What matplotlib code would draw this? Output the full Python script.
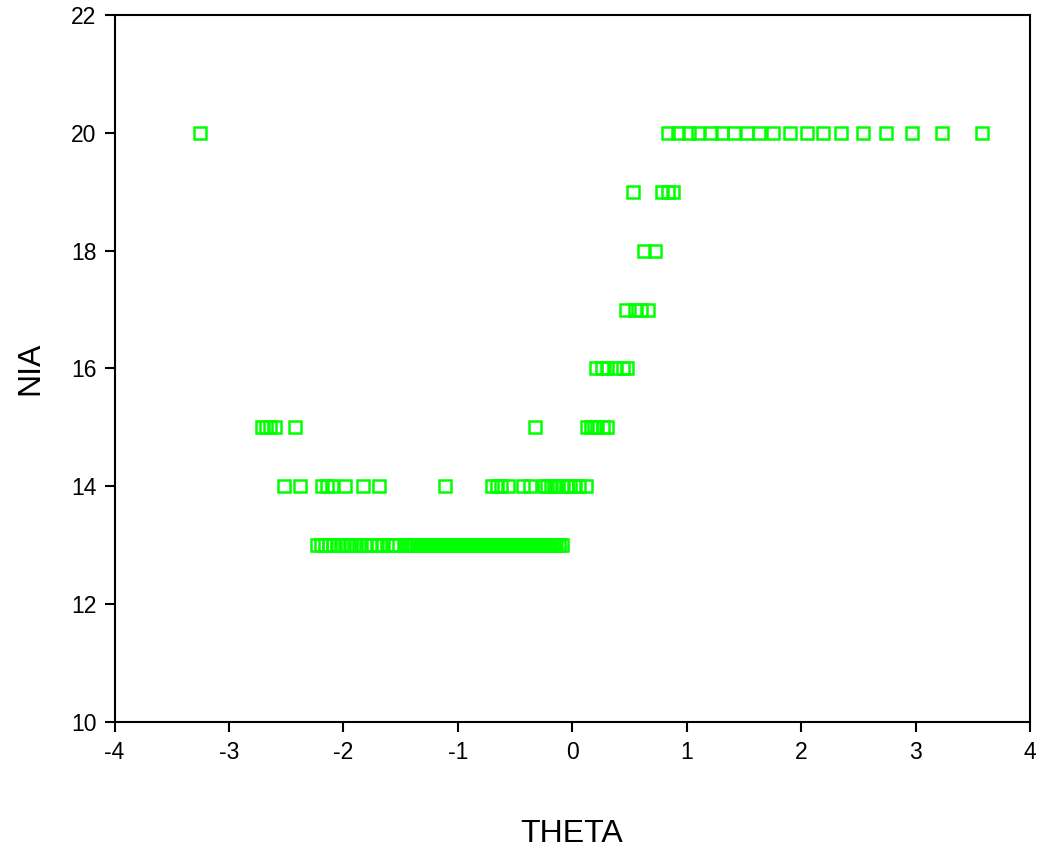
import matplotlib.pyplot as plt
import numpy as np

plt.rcParams['font.family'] = ['Liberation Sans', 'DejaVu Sans']
plt.rcParams['axes.unicode_minus'] = False

# theta values, grouped by NIA score
theta_20 = [-3.25, 0.84, 0.92, 1.02, 1.10, 1.21, 1.31, 1.41, 1.53, 1.63,
            1.75, 1.90, 2.05, 2.19, 2.35, 2.54, 2.74, 2.97, 3.23, 3.58]
theta_19 = [0.53, 0.78, 0.84, 0.88]
theta_18 = [0.63, 0.72]
theta_17 = [0.47, 0.55, 0.60, 0.66]
theta_16 = [0.21, 0.26, 0.30, 0.38, 0.44, 0.48]
theta_15 = [-2.71, -2.68, -2.64, -2.60, -2.42, -0.33,
            0.13, 0.16, 0.19, 0.22, 0.27, 0.30]
theta_14 = [-2.52, -2.38, -2.19, -2.14, -2.10, -1.99, -1.83, -1.69, -1.11,
            -0.70, -0.66, -0.62, -0.56, -0.43, -0.37, -0.25, -0.22, -0.19,
            -0.16, -0.13, -0.09, -0.05, -0.02, 0.02, 0.06, 0.12]
theta_13 = [-2.23, -2.20, -2.16, -2.13, -2.09, -2.05, -2.01, -1.97, -1.93,
            -1.89, -1.85, -1.80, -1.76, -1.71, -1.66, -1.62, -1.58, -1.55,
            -1.46, -1.44, -1.42, -1.40, -1.38, -1.36, -1.34, -1.32, -1.30,
            -1.28, -1.26, -1.24, -1.22, -1.20, -1.18, -1.16, -1.14, -1.12,
            -1.10, -1.08, -1.06, -1.04, -1.02, -1.00, -0.98, -0.96, -0.94,
            -0.92, -0.90, -0.88, -0.86, -0.84, -0.82, -0.80, -0.78, -0.76,
            -0.74, -0.72, -0.70, -0.68, -0.66, -0.64, -0.62, -0.60, -0.58,
            -0.56, -0.54, -0.52, -0.50, -0.48, -0.46, -0.44, -0.42, -0.40,
            -0.38, -0.36, -0.34, -0.32, -0.30, -0.28, -0.26, -0.24, -0.22,
            -0.20, -0.18, -0.16, -0.14, -0.12, -0.09]

groups = [(20, theta_20), (19, theta_19), (18, theta_18), (17, theta_17),
          (16, theta_16), (15, theta_15), (14, theta_14), (13, theta_13)]

theta = np.concatenate([g[1] for g in groups])
nia = np.concatenate([[g[0]] * len(g[1]) for g in groups])

fig = plt.figure(figsize=(10.42, 8.5), dpi=100)
ax = fig.add_axes([0.110, 0.151, 0.8785, 0.831])

ax.plot(theta, nia, linestyle='none', marker='s', markersize=8,
        markerfacecolor='none', markeredgecolor='#00ff00', markeredgewidth=1.8)

ax.set_xlim(-4, 4)
ax.set_ylim(10, 22)
ax.set_xticks(range(-4, 5))
ax.set_yticks(range(10, 23, 2))
ax.tick_params(direction='out', length=7, width=1.5, labelsize=16.5)
ax.tick_params(axis='x', pad=7)
ax.tick_params(axis='y', pad=6)
for s in ax.spines.values():
    s.set_linewidth(1.5)

fig.text(572 / 1042, 1 - 842 / 850, 'THETA', fontsize=23,
         ha='center', va='baseline')
fig.text(30 / 1042, 1 - 368 / 850, 'NIA', fontsize=23, rotation=90,
         ha='center', va='center')

plt.savefig('out.png')
